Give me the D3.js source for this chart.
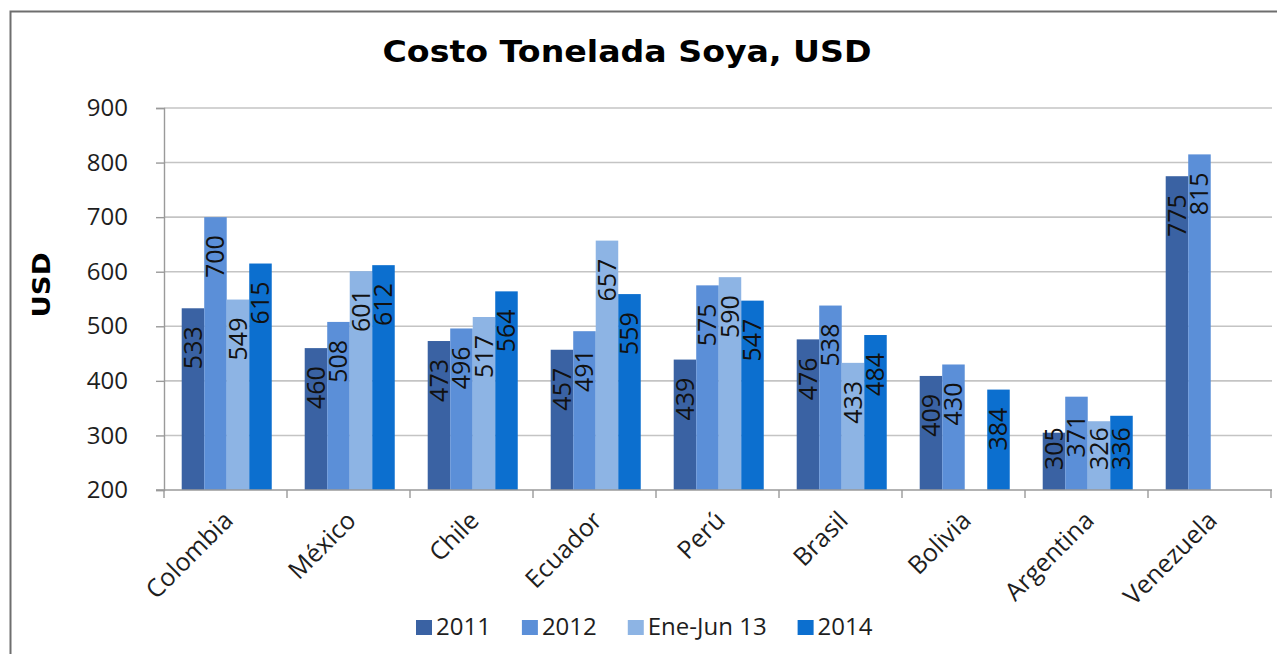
<!DOCTYPE html>
<html>
<head>
<meta charset="utf-8">
<script src="https://cdn.jsdelivr.net/npm/d3@7"></script>
<style>
  html, body { margin: 0; padding: 0; background: #fff; }
  svg { display: block; }
  text { font-family: "Open Sans", "Noto Sans", sans-serif; }
</style>
</head>
<body>
<svg id="chart" width="1277" height="654"></svg>
<script>
// Soybean cost per ton (USD) by country
const categories = ["Colombia", "México", "Chile", "Ecuador", "Perú", "Brasil", "Bolivia", "Argentina", "Venezuela"];
const seriesNames = ["2011", "2012", "Ene-Jun 13", "2014"];
const values2011 = [533, 460, 473, 457, 439, 476, 409, 305, 775];
const values2012 = [700, 508, 496, 491, 575, 538, 430, 371, 815];
const valuesEneJun13 = [549, 601, 517, 657, 590, 433, null, 326, null];
const values2014 = [615, 612, 564, 559, 547, 484, 384, 336, null];
const yTicks = [200, 300, 400, 500, 600, 700, 800, 900];
const seriesColors = ["#3a62a3", "#5b8fd8", "#8db4e4", "#0c6fcf"];

const seriesValues = [values2011, values2012, valuesEneJun13, values2014];

const svg = d3.select("#chart");

// outer chart frame (only left/top edges fall inside the canvas)
svg.append("rect")
  .attr("x", 10.5).attr("y", 11.5)
  .attr("width", 1400).attr("height", 800)
  .attr("fill", "none")
  .attr("stroke", "#6e6e6e")
  .attr("stroke-width", 2);

const plot = { left: 164, right: 1271, top: 108, bottom: 490 };

const x0 = d3.scaleBand().domain(categories).range([plot.left, plot.right]).padding(0);
const bw = x0.bandwidth();
const x1 = d3.scaleBand().domain(seriesNames).range([bw * 0.144, bw * 0.876]).padding(0);
const y = d3.scaleLinear().domain([200, 900]).range([plot.bottom, plot.top]);

// horizontal gridlines
svg.append("g")
  .selectAll("line")
  .data(yTicks.slice(1))
  .join("line")
  .attr("x1", plot.left).attr("x2", plot.right + 1)
  .attr("y1", d => y(d)).attr("y2", d => y(d))
  .attr("stroke", "#c4c4c4")
  .attr("stroke-width", 1.6);

// y axis
const yAxis = svg.append("g")
  .attr("transform", `translate(${plot.left},0)`)
  .call(d3.axisLeft(y).tickValues(yTicks).tickSize(8).tickPadding(28).tickFormat(d3.format("d")));
yAxis.select(".domain").attr("stroke", "#9a9a9a").attr("stroke-width", 1.4);
yAxis.selectAll(".tick line").attr("stroke", "#9a9a9a").attr("stroke-width", 1.4);
yAxis.selectAll(".tick text")
  .attr("font-size", 24)
  .attr("fill", "#1e1e1e")
  .style("font-family", "'Open Sans', sans-serif");

// bars
const groups = svg.append("g")
  .selectAll("g")
  .data(categories)
  .join("g")
  .attr("transform", d => `translate(${x0(d)},0)`);

const barData = (c, i) => seriesNames.map((s, k) => ({ category: c, series: s, k, value: seriesValues[k][i] }))
  .filter(d => d.value != null);

groups.selectAll("rect")
  .data((c, i) => barData(c, i))
  .join("rect")
  .attr("x", d => x1(d.series))
  .attr("width", x1.bandwidth())
  .attr("y", d => y(d.value))
  .attr("height", d => y(200) - y(d.value))
  .attr("fill", d => seriesColors[d.k]);

// x axis
const xAxis = svg.append("g")
  .attr("transform", `translate(0,${plot.bottom})`);
xAxis.append("line")
  .attr("x1", plot.left - 8).attr("x2", plot.right + 1)
  .attr("stroke", "#9a9a9a").attr("stroke-width", 1.4);
xAxis.selectAll("line.tick")
  .data(categories.concat([null]))
  .join("line")
  .attr("class", "tick")
  .attr("x1", (d, i) => plot.left + i * bw)
  .attr("x2", (d, i) => plot.left + i * bw)
  .attr("y1", 0).attr("y2", 8)
  .attr("stroke", "#9a9a9a").attr("stroke-width", 1.4);

xAxis.selectAll("text")
  .data(categories)
  .join("text")
  .attr("transform", d => `translate(${x0(d) + bw / 2 + 9},${32}) rotate(-45)`)
  .attr("text-anchor", "end")
  .attr("font-size", 25)
  .attr("fill", "#1e1e1e")
  .text(d => d);

// value labels, rotated, inside the bar top
groups.selectAll("text")
  .data((c, i) => barData(c, i))
  .join("text")
  .attr("font-size", 25)
  .attr("fill", "#111")
  .attr("text-anchor", "end")
  .attr("dy", "0.36em")
  .text(d => d.value)
  .attr("transform", function(d) {
    const len = this.getComputedTextLength();
    const top = Math.min(y(d.value) + 18, y(200) - 20 - len);
    return `translate(${x1(d.series) + x1.bandwidth() / 2},${top}) rotate(-90)`;
  });

// title
svg.append("text")
  .attr("x", 627).attr("y", 62)
  .attr("text-anchor", "middle")
  .attr("font-size", 30)
  .attr("font-weight", "bold")
  .attr("fill", "#000")
  .style("font-family", "'DejaVu Sans', sans-serif")
  .attr("textLength", 489)
  .attr("lengthAdjust", "spacingAndGlyphs")
  .text("Costo Tonelada Soya, USD");

// y axis title
svg.append("text")
  .attr("transform", "translate(50,285) rotate(-90)")
  .attr("text-anchor", "middle")
  .attr("font-size", 25)
  .attr("font-weight", "bold")
  .attr("fill", "#000")
  .style("font-family", "'DejaVu Sans', sans-serif")
  .attr("textLength", 65)
  .attr("lengthAdjust", "spacingAndGlyphs")
  .text("USD");

// legend
const legend = svg.append("g").attr("transform", "translate(416,635)");
let lx = 0;
seriesNames.forEach((s, k) => {
  const item = legend.append("g").attr("transform", `translate(${lx},0)`);
  item.append("rect")
    .attr("x", 0).attr("y", -15)
    .attr("width", 16).attr("height", 15)
    .attr("fill", seriesColors[k]);
  const t = item.append("text")
    .attr("x", 20).attr("y", 0)
    .attr("font-size", 24)
    .attr("fill", "#1e1e1e")
    .text(s);
  lx += 20 + t.node().getComputedTextLength() + 31;
});
</script>
</body>
</html>
